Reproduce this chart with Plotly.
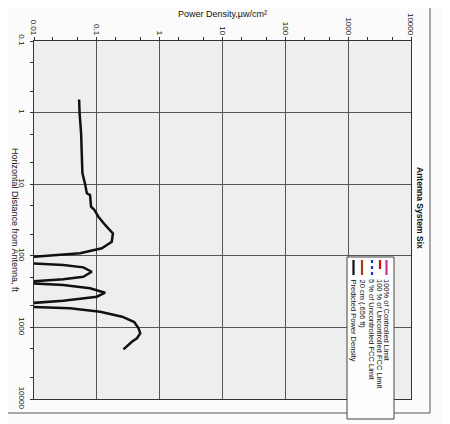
import plotly.graph_objects as go

# ---- data ----
distance_ft = [0.656, 1.0, 1.95, 7.0, 10.0, 13.4, 14.2, 20.6, 22.9, 28.4, 37.1, 48.5, 63.5, 78.5,
               92.3, 100.7, 110, 127, 134, 145, 167, 196, 213, 230, 236, 242, 256, 284, 328, 373,
               424, 461, 490, 514, 541, 604, 709, 841, 1030, 1210, 1420, 1585, 1762, 2023]
power_density = [0.0522, 0.0531, 0.0562, 0.0589, 0.0651, 0.0693, 0.078, 0.0809, 0.0915, 0.106,
                 0.1355, 0.18, 0.173, 0.12, 0.0542, 0.018, 0.004, 0.008, 0.0293, 0.061, 0.083,
                 0.061, 0.0293, 0.008, 0.004, 0.008, 0.0293, 0.078, 0.1355, 0.1, 0.0293, 0.008,
                 0.004, 0.008, 0.0375, 0.113, 0.253, 0.394, 0.461, 0.491, 0.435, 0.361, 0.319, 0.265]

x_ticks = [0.01, 0.1, 1, 10, 100, 1000, 10000]
x_tick_labels = ["0.01", "0.1", "1", "10", "100", "1000", "10000"]
y_ticks = [0.1, 1, 10, 100, 1000, 10000]
y_tick_labels = ["0.1", "1", "10", "100", "1000", "10000"]

legend_labels = ["100% of Controlled Limit", "100 % of Uncontrolled FCC Limit",
                 "5 % of Uncontrolled FCC Limit", "20 cm (.656 ft)", "Predicted Power Density"]
legend_colors = ["#cc3399", "#cc1111", "#1a33cc", "#a0401a", "#111111"]
legend_dashes = ["solid", "dash", "dot", "solid", "solid"]

# ---- layout geometry (screen pixels; page body has an 8px margin) ----
OFF = 8
W, H = 450 - OFF, 424 - OFF
PL, PR, PT, PB = 34, 411, 41, 399
FONT = "Arial, Liberation Sans, sans-serif"


def px(x):
    return (x - PL) / (PR - PL)


def py(y):
    return (PB - y) / (PB - PT)


fig = go.Figure()
fig.add_trace(go.Scatter(x=power_density, y=distance_ft, mode="lines",
                         line=dict(color="#111111", width=2.5), showlegend=False,
                         hoverinfo="skip"))

shapes = []
annotations = []

# outer border
shapes.append(dict(type="rect", xref="paper", yref="paper", x0=px(5), x1=px(430),
                   y0=py(413), y1=py(3), line=dict(color="#555555", width=1), layer="below"))

# legend box
shapes.append(dict(type="rect", xref="paper", yref="paper", x0=px(347), x1=px(394),
                   y0=py(419), y1=py(257), fillcolor="#fdfdfd",
                   line=dict(color="#444444", width=1), layer="above"))
leg_x = [386.5, 380, 372, 362, 353.5]
for xc, lab, col, dash in zip(leg_x, legend_labels, legend_colors, legend_dashes):
    shapes.append(dict(type="line", xref="paper", yref="paper", x0=px(xc), x1=px(xc),
                       y0=py(260), y1=py(275), line=dict(color=col, width=2.2, dash=dash),
                       layer="above"))
    annotations.append(dict(text=lab, xref="paper", yref="paper", x=px(xc), y=py(277),
                            xanchor="center", yanchor="top", textangle=90, showarrow=False,
                            font=dict(family=FONT, size=7.5, color="#111111")))

# titles
annotations.append(dict(text="Power Density,µw/cm²", xref="paper", yref="paper",
                        x=px(222.5), y=py(14), xanchor="center", yanchor="middle",
                        showarrow=False, font=dict(family=FONT, size=9, color="#111111")))
annotations.append(dict(text="Horizontal Distance from Antenna, ft", xref="paper", yref="paper",
                        x=px(15), y=py(220), xanchor="center", yanchor="middle", textangle=90,
                        showarrow=False, font=dict(family=FONT, size=9, color="#111111")))
annotations.append(dict(text="<b>Antenna System Six</b>", xref="paper", yref="paper",
                        x=px(420), y=py(208), xanchor="center", yanchor="middle", textangle=90,
                        showarrow=False, font=dict(family=FONT, size=8.5, color="#111111")))

axis_common = dict(type="log", tickangle=90, showgrid=True, gridcolor="#555555", gridwidth=1,
                   showline=True, linecolor="#333333", linewidth=1, mirror=True,
                   ticks="outside", ticklen=3, tickcolor="#333333",
                   minor=dict(ticks="outside", ticklen=3, tickcolor="#333333", showgrid=False),
                   zeroline=False, tickfont=dict(size=8), automargin=False)

fig.update_layout(
    width=W, height=H,
    margin=dict(l=PL - OFF, r=450 - PR, t=PT - OFF, b=424 - PB, pad=0),
    paper_bgcolor="#fbfbfb", plot_bgcolor="#eeeeee",
    showlegend=False,
    shapes=shapes, annotations=annotations,
    font=dict(family=FONT, size=8, color="#111111"),
    xaxis=dict(range=[-2, 4], side="top", tickvals=x_ticks, ticktext=x_tick_labels,
               ticklabelstandoff=-1, **axis_common),
    yaxis=dict(range=[4, -1], tickvals=y_ticks, ticktext=y_tick_labels,
               ticklabelstandoff=1, **axis_common),
)

fig.write_html("out.html")
